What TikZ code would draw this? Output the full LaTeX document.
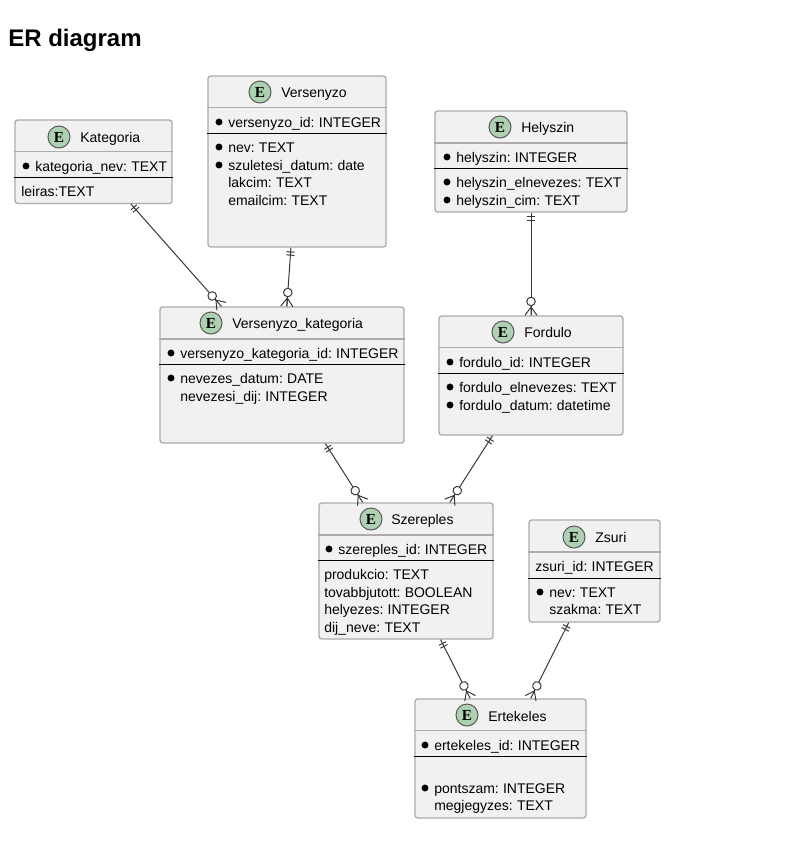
\documentclass[tikz,border=0pt]{standalone}
\usepackage{fontspec}
\setmainfont{Liberation Sans}
\newfontfamily\glyphfont{Liberation Serif}
\usepackage{xcolor}
\usetikzlibrary{fit}
\definecolor{boxfill}{HTML}{F1F1F1}
\definecolor{boxline}{HTML}{ABABAB}
\definecolor{linkline}{HTML}{383838}
\definecolor{spotfill}{HTML}{ADD1B2}
\definecolor{spotline}{HTML}{5A5A5A}
\pgfdeclarearrow{name=erone,
  setup code={\pgfarrowssettipend{0pt}\pgfarrowssetlineend{0pt}\pgfarrowssetbackend{-8pt}\pgfarrowssetvisualbackend{-8pt}},
  drawing code={
    \pgfpathmoveto{\pgfpoint{-3.2pt}{-3pt}}\pgfpathlineto{\pgfpoint{-3.2pt}{3pt}}
    \pgfpathmoveto{\pgfpoint{-5.6pt}{-3pt}}\pgfpathlineto{\pgfpoint{-5.6pt}{3pt}}
    \pgfusepathqstroke}}
\pgfdeclarearrow{name=ermany,
  setup code={\pgfarrowssettipend{0pt}\pgfarrowssetlineend{0pt}\pgfarrowssetbackend{-15pt}\pgfarrowssetvisualbackend{-15pt}},
  drawing code={
    \pgfpathmoveto{\pgfpoint{0pt}{-4.5pt}}\pgfpathlineto{\pgfpoint{-6.2pt}{0pt}}\pgfpathlineto{\pgfpoint{0pt}{4.5pt}}
    \pgfusepathqstroke
    \pgfsetfillcolor{white}
    \pgfpathcircle{\pgfpoint{-10.4pt}{0pt}}{3.2pt}
    \pgfusepathqfillstroke}}
\pgfdeclarearrow{name=ermanystem,
  setup code={\pgfarrowssettipend{0pt}\pgfarrowssetlineend{0pt}\pgfarrowssetbackend{-15pt}\pgfarrowssetvisualbackend{-15pt}},
  drawing code={
    \pgfpathmoveto{\pgfpoint{0pt}{-4.5pt}}\pgfpathlineto{\pgfpoint{-6.2pt}{0pt}}\pgfpathlineto{\pgfpoint{0pt}{4.5pt}}
    \pgfpathmoveto{\pgfpoint{0pt}{0pt}}\pgfpathlineto{\pgfpoint{-7pt}{0pt}}
    \pgfusepathqstroke
    \pgfsetfillcolor{white}
    \pgfpathcircle{\pgfpoint{-10.4pt}{0pt}}{3.2pt}
    \pgfusepathqfillstroke}}
\tikzset{
  entity/.style={draw=boxline,line width=1pt,fill=boxfill,rounded corners=2pt,inner sep=0pt},
  spot/.style={circle,draw=spotline,line width=.75pt,fill=spotfill,minimum size=16.5pt,inner sep=0pt,font=\glyphfont\bfseries\fontsize{11.5}{12}\selectfont},
  field/.style={anchor=base west,inner sep=0pt,font=\fontsize{10.5}{12}\selectfont\spaceskip 2.2pt\relax},
  link/.style={draw=linkline,line width=.75pt,erone-ermany},
  straightlink/.style={draw=linkline,line width=.75pt,erone-ermanystem}
}
% name, top left, bottom right, spot centre, title x, grey line y, dark line y, title
\newcommand{\entity}[8]{
  \node (#1) [entity,fit={(#2)(#3)}] {};
  \node (#1spot) [spot] at (#4) {E};
  \node (#1title) [field] at (#5,\spoty+5) {#8};
  \draw [boxline,line width=1pt] (#1.west |- 0,#6) -- (#1.east |- 0,#6);
  \draw [black,line width=.75pt] (#1.west |- 0,#7) -- (#1.east |- 0,#7);
}
\newcommand{\spoty}{0}
% name, text x, centre y, text
\newcommand{\attr}[4]{\node (#1) [field] at (#2,#3+5) {#4};}
\newcommand{\keydot}[2]{\fill (#1,#2) circle (2.6pt)}

\begin{document}
\begin{tikzpicture}[x=.75pt,y=-.75pt]
    \useasboundingbox (0,0) rectangle (800,847);
    \node (heading) [anchor=base west,inner sep=0pt,font=\bfseries\fontsize{18}{20}\selectfont] at (8,46) {ER diagram};

    \renewcommand{\spoty}{137}
    \entity{kategoria}{15,120}{172,203.5}{59,137}{80}{151.5}{177}{Kategoria}
    \keydot{26}{166};
    \attr{kategorianev}{35}{166}{kategoria\_nev: TEXT}
    \attr{leiras}{21}{191}{leiras:TEXT}

    \renewcommand{\spoty}{92}
    \entity{versenyzo}{208,76}{386,247}{260,92}{281}{107.5}{133}{Versenyzo}
    \keydot{219}{122};
    \keydot{219}{147};
    \keydot{219}{165};
    \attr{versenyzoid}{228}{122}{versenyzo\_id: INTEGER}
    \attr{nev}{228}{147}{nev: TEXT}
    \attr{szuletesi}{228}{165}{szuletesi\_datum: date}
    \attr{lakcim}{228}{182}{lakcim: TEXT}
    \attr{emailcim}{228}{200}{emailcim: TEXT}

    \renewcommand{\spoty}{127}
    \entity{helyszin}{435,111}{627,212}{500,127}{521}{143}{168}{Helyszin}
    \keydot{447}{157};
    \keydot{447}{182};
    \keydot{447}{200};
    \attr{helyszinid}{456}{157}{helyszin: INTEGER}
    \attr{elnevezes}{456}{182}{helyszin\_elnevezes: TEXT}
    \attr{helyszincim}{456}{200}{helyszin\_cim: TEXT}

    \renewcommand{\spoty}{323}
    \entity{verskat}{160,307}{404,443}{211,323}{232}{339}{364}{Versenyzo\_kategoria}
    \keydot{171}{353};
    \keydot{171}{378};
    \attr{verskatid}{180}{353}{versenyzo\_kategoria\_id: INTEGER}
    \attr{nevezes}{180}{378}{nevezes\_datum: DATE}
    \attr{nevezesi}{180}{396}{nevezesi\_dij: INTEGER}

    \renewcommand{\spoty}{332}
    \entity{fordulo}{439,316}{623,435}{503,332}{524}{347.5}{373}{Fordulo}
    \keydot{450}{362};
    \keydot{450}{387};
    \keydot{450}{405};
    \attr{forduloid}{459}{362}{fordulo\_id: INTEGER}
    \attr{forduloelnev}{459}{387}{fordulo\_elnevezes: TEXT}
    \attr{fordulodatum}{459}{405}{fordulo\_datum: datetime}

    \renewcommand{\spoty}{519}
    \entity{szereples}{319,503}{493,639}{371,519}{391}{535}{560}{Szereples}
    \keydot{329}{549};
    \attr{szereplesid}{338}{549}{szereples\_id: INTEGER}
    \attr{produkcio}{324}{574}{produkcio: TEXT}
    \attr{tovabb}{324}{592}{tovabbjutott: BOOLEAN}
    \attr{helyezes}{324}{609}{helyezes: INTEGER}
    \attr{dijneve}{324}{627}{dij\_neve: TEXT}

    \renewcommand{\spoty}{537}
    \entity{zsuri}{529,520}{660,622}{574,537}{595}{552}{578}{Zsuri}
    \keydot{540}{592};
    \attr{zsuriid}{535}{566}{zsuri\_id: INTEGER}
    \attr{zsurinev}{549}{592}{nev: TEXT}
    \attr{szakma}{549}{609}{szakma: TEXT}

    \renewcommand{\spoty}{716}
    \entity{ertekeles}{415,699}{586,818}{467,715}{488}{730.5}{756}{Ertekeles}
    \keydot{425}{745};
    \keydot{425}{788};
    \attr{ertekelesid}{434}{745}{ertekeles\_id: INTEGER}
    \attr{pontszam}{434}{788}{pontszam: INTEGER}
    \attr{megjegyzes}{434}{805}{megjegyzes: TEXT}

    \draw [link] (kategoria) -- (verskat);
    \draw [straightlink] (versenyzo) -- (verskat);
    \draw [straightlink] (helyszin) -- (fordulo);
    \draw [link] (verskat) -- (szereples);
    \draw [link] (fordulo) -- (szereples);
    \draw [link] (szereples) -- (ertekeles);
    \draw [link] (zsuri) -- (ertekeles);
\end{tikzpicture}
\end{document}
